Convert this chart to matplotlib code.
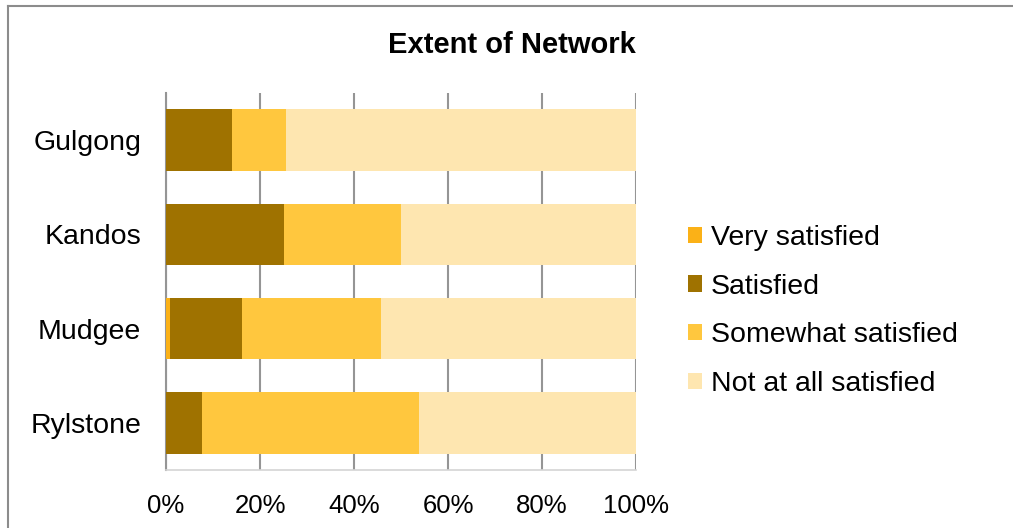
import matplotlib
matplotlib.use("Agg")
import matplotlib.pyplot as plt
from matplotlib.lines import Line2D
import numpy as np

plt.rcParams['font.family'] = ['Liberation Sans', 'DejaVu Sans']

towns = ["Gulgong", "Kandos", "Mudgee", "Rylstone"]
series = ["Very satisfied", "Satisfied", "Somewhat satisfied", "Not at all satisfied"]
very_satisfied = [0.0, 0.0, 0.8, 0.0]
satisfied = [14.0, 25.0, 15.4, 7.7]
somewhat_satisfied = [11.5, 25.0, 29.5, 46.1]
not_at_all_satisfied = [74.5, 50.0, 54.3, 46.2]
colors = ["#FBB117", "#9F7200", "#FFC73E", "#FEE6B0"]
x_ticks = [0, 20, 40, 60, 80, 100]
x_tick_labels = ["0%", "20%", "40%", "60%", "80%", "100%"]

W, H = 1013, 528
fig = plt.figure(figsize=(W / 100, H / 100), dpi=100)
ax = fig.add_axes([166 / W, 1 - 470 / H, (636 - 166) / W, (470 - 93) / H])

y = np.arange(len(towns))
left = np.zeros(len(towns))
for name, vals, col in zip(series, [very_satisfied, satisfied, somewhat_satisfied, not_at_all_satisfied], colors):
    vals = np.array(vals)
    ax.barh(y, vals, left=left, height=0.65, color=col, label=name, zorder=3)
    left += vals

ax.set_xlim(0, 100)
ax.set_ylim(len(towns) - 0.5, -0.5)
ax.set_yticks(y)
ax.set_yticklabels(towns, fontsize=20.5)
ax.set_xticks(x_ticks)
ax.set_xticklabels(x_tick_labels, fontsize=18.5)
ax.tick_params(axis='y', length=0, pad=18)
ax.tick_params(axis='x', length=0, pad=17)
ax.grid(axis='x', color='#959595', linewidth=1.5, zorder=0)
for s in ['top', 'right']:
    ax.spines[s].set_visible(False)
ax.spines['left'].set_color('#959595')
ax.spines['left'].set_linewidth(1.5)
ax.spines['bottom'].set_color('#d4d4d4')
ax.spines['bottom'].set_linewidth(1.2)

fig.text(512 / W, 1 - 45 / H, "Extent of Network", ha='center', va='center',
         fontsize=21, fontweight='bold')

handles, labels = ax.get_legend_handles_labels()
leg = fig.legend(handles, labels, loc='center left',
                 bbox_to_anchor=(688 / W, 1 - 311 / H), frameon=False,
                 fontsize=20.5, handlelength=0.5, handleheight=0.5,
                 handletextpad=0.3, labelspacing=0.8, borderaxespad=0,
                 borderpad=0)

# outer chart border (left and top edges)
fig.add_artist(Line2D([8 / W, 8 / W], [0, 1 - 5.5 / H], transform=fig.transFigure,
                      color='#8c8c8c', linewidth=1.5))
fig.add_artist(Line2D([8 / W, 1], [1 - 5.5 / H, 1 - 5.5 / H], transform=fig.transFigure,
                      color='#8c8c8c', linewidth=1.5))

fig.savefig("out.png", dpi=100)
